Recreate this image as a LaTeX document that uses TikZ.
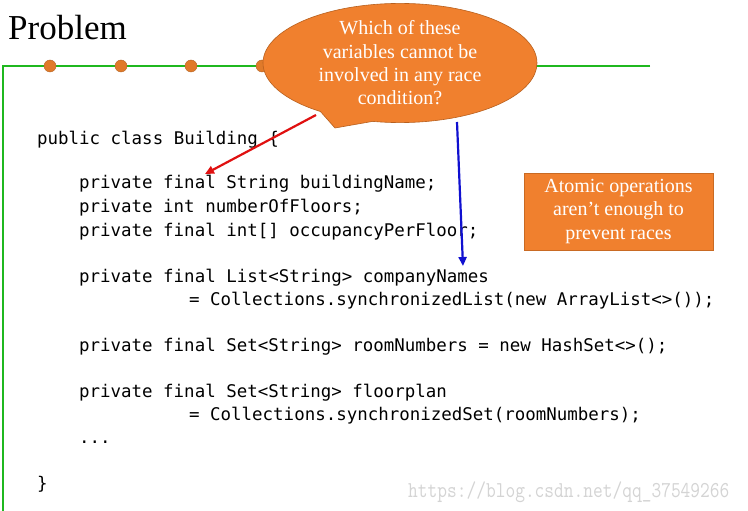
\documentclass[tikz,border=0pt]{standalone}
\usepackage{fontspec}
\setmainfont{Liberation Serif}
\newfontfamily\codefont{DejaVu Sans Mono}
\usetikzlibrary{shapes.callouts,arrows.meta}
\definecolor{slidegreen}{HTML}{1FB81F}
\definecolor{calloutorange}{HTML}{F0802E}
\definecolor{calloutborder}{HTML}{B8601E}
\definecolor{dotorange}{HTML}{E07A2A}
\definecolor{arrowred}{HTML}{E01010}
\definecolor{arrowblue}{HTML}{1010D0}
\definecolor{wmgray}{HTML}{D4D4D4}
\tikzset{
  codeline/.style={anchor=base west, inner sep=0pt, font=\codefont\fontsize{17.45}{20}\selectfont},
  dotstyle/.style={circle, fill=dotorange, draw=dotorange!80!black, line width=0.4pt, minimum size=12pt, inner sep=0pt},
  whitetext/.style={text=white, align=center, font=\fontsize{20}{23.3}\selectfont},
  pointer/.style={line width=2.2pt, -{Triangle[length=9pt,width=8pt]}}
}
\begin{document}
\begin{tikzpicture}[x=1pt,y=-1pt]
\useasboundingbox[fill=white] (0,0) rectangle (748,511);
% title
\node[anchor=base west, inner sep=0pt, font=\fontsize{35}{40}\selectfont] (title) at (8,40) {Problem};
% frame lines
\coordinate (gl) at (3,66);
\coordinate (gr) at (650,66);
\coordinate (gb) at (3,511);
\draw[slidegreen, line width=1.3pt] (gr) -- (gl) -- (gb);
% dots
\node[dotstyle] (d1) at (50,66) {};
\node[dotstyle] (d2) at (121,66) {};
\node[dotstyle] (d3) at (191,66) {};
\node[dotstyle] (d4) at (262,66) {};
% callout
\node[ellipse callout, fill=calloutorange, draw=calloutborder, line width=0.6pt,
      minimum width=274pt, minimum height=102pt, inner sep=0pt,
      callout absolute pointer={(335,128)}, callout pointer arc=24,
      whitetext] (q) at (400,63)
  {Which of these\\variables cannot be\\involved in any race\\condition?};
% rectangle note
\node[rectangle, fill=calloutorange, draw=calloutborder!70!calloutorange, line width=0.6pt,
      minimum width=189pt, minimum height=77pt, inner sep=0pt, whitetext] (note) at (618.5,211.5)
  {Atomic operations\\aren’t enough to\\prevent races};
% code
\node[codeline] (c1) at (37,144) {public class Building \{};
\node[codeline] (c2) at (79,189) {private final String buildingName;};
\node[codeline] (c3) at (79,212) {private int numberOfFloors;};
\node[codeline] (c4) at (79,236) {private final int[] occupancyPerFloor;};
\node[codeline] (c5) at (79,282) {private final List<String> companyNames};
\node[codeline] (c6) at (189,305) {= Collections.synchronizedList(new ArrayList<>());};
\node[codeline] (c7) at (79,351) {private final Set<String> roomNumbers = new HashSet<>();};
\node[codeline] (c8) at (79,397) {private final Set<String> floorplan};
\node[codeline] (c9) at (189,420) {= Collections.synchronizedSet(roomNumbers);};
\node[codeline] (c10) at (79,443) {...};
\node[codeline] (c11) at (37,489) {\}};
% arrows
\coordinate (ra) at (316,115);
\coordinate (rb) at (205,174);
\draw[pointer, arrowred] (ra) -- (rb);
\coordinate (ba) at (457,122);
\coordinate (bb) at (463,266);
\draw[pointer, arrowblue] (ba) -- (bb);
% watermark
\node[anchor=base west, inner sep=0pt, text=wmgray] (wm) at (408,497)
  {\scalebox{1.0}[1.2]{\ttfamily\fontsize{18.9}{20}\selectfont https://blog.csdn.net/qq\_37549266}};
\end{tikzpicture}
\end{document}
